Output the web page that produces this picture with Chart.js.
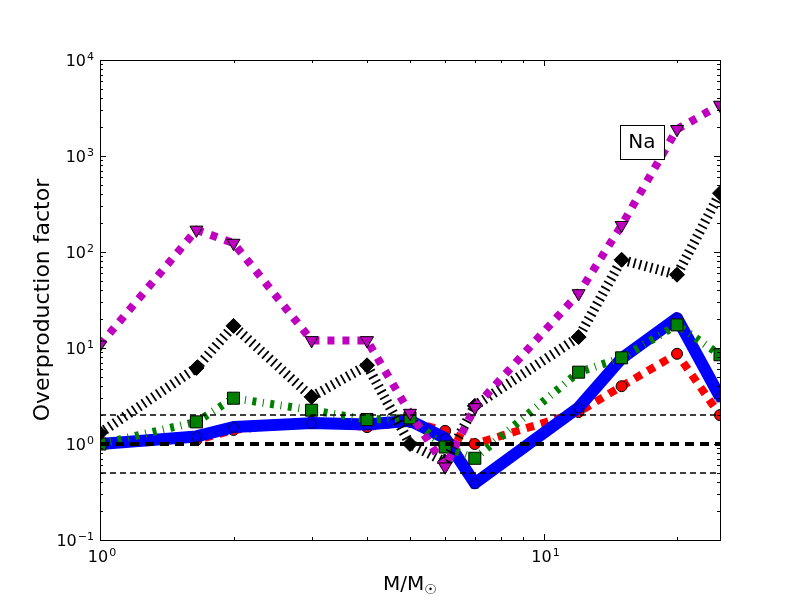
<!DOCTYPE html>
<html>
<head>
<meta charset="utf-8">
<script src="https://cdn.jsdelivr.net/npm/chart.js@4.4.0/dist/chart.umd.min.js"></script>
<style>
  html, body { margin: 0; padding: 0; background: #fff; }
  canvas { display: block; }
</style>
</head>
<body>
<canvas id="chart" width="800" height="600"></canvas>
<script>
// Stellar masses (x) and overproduction factors for each model (y)
const masses = [1, 1.65, 2, 3, 4, 5, 6, 7, 12, 15, 20, 25];
const blueValues    = [1.0, 1.2, 1.5, 1.65, 1.6, 1.75, 1.15, 0.39, 2.4, 7.8, 20.5, 3.1];
const redValues     = [1.0, 1.1, 1.4, 1.7, 1.5, 1.7, 1.37, 1.0, 2.15, 4.0, 8.7, 2.0];
const greenValues   = [1.0, 1.7, 3.0, 2.25, 1.8, 1.87, 0.93, 0.71, 5.6, 7.9, 17.4, 8.5];
const blackValues   = [1.3, 6.2, 17, 3.1, 6.6, 1.0, 0.65, 2.5, 13, 83, 58, 410];
const magentaValues = [10.8, 170, 124, 12, 12, 2.1, 0.58, 2.4, 37, 190, 1900, 3400];

// Reference levels (dashed horizontal lines)
const refLevels = [0.5, 1, 2];

// Tick labels
const yTickValues = [0.1, 1, 10, 100, 1000, 10000];
const yTickExponents = ['\u22121', '0', '1', '2', '3', '4'];
const xTickValues = [1, 10];
const xTickExponents = ['0', '1'];

const elementLabel = 'Na';

function toPoints(values) {
    return values.map((v, i) => ({ x: masses[i], y: v }));
}

// pentagon marker for the blue series
function makePentagon(r, fill) {
    const c = document.createElement('canvas');
    const s = Math.ceil(r * 2 + 4);
    c.width = s; c.height = s;
    const g = c.getContext('2d');
    g.beginPath();
    for (let k = 0; k < 5; k++) {
        const a = -Math.PI / 2 + k * 2 * Math.PI / 5;
        const px = s / 2 + r * Math.cos(a);
        const py = s / 2 + r * Math.sin(a) + 0.5;
        if (k === 0) g.moveTo(px, py); else g.lineTo(px, py);
    }
    g.closePath();
    g.fillStyle = fill;
    g.fill();
    g.lineWidth = 1;
    g.strokeStyle = '#000060';
    g.stroke();
    return c;
}

const refDatasets = refLevels.map(lvl => ({
    data: [{ x: masses[0], y: lvl }, { x: masses[masses.length - 1], y: lvl }],
    borderColor: '#000',
    borderWidth: lvl === 1 ? 4 : 1.5,
    borderDash: lvl === 1 ? [9, 6] : [6, 4],
    pointRadius: 0,
    order: 0
}));

const datasets = [
    {
        data: toPoints(redValues),
        borderColor: '#ff0000',
        borderWidth: 8,
        borderDash: [8, 7],
        pointStyle: 'circle',
        pointRadius: 5.5,
        pointBackgroundColor: '#ff0000',
        pointBorderColor: '#000',
        pointBorderWidth: 1,
        order: 5
    },
    {
        data: toPoints(blueValues),
        borderColor: '#0000ff',
        borderWidth: 12,
        pointStyle: makePentagon(5.5, '#0000ff'),
        pointRadius: 6,
        order: 4
    },
    {
        data: toPoints(greenValues),
        borderColor: '#008000',
        borderWidth: 8,
        borderDash: [4, 6.5, 1, 6.5],
        pointStyle: 'rect',
        pointRadius: 8.5,
        pointBackgroundColor: '#008000',
        pointBorderColor: '#000',
        pointBorderWidth: 1,
        order: 3
    },
    {
        data: toPoints(blackValues),
        borderColor: '#000',
        borderWidth: 10,
        borderDash: [1.8, 4],
        pointStyle: 'rectRot',
        pointRadius: 7.5,
        pointBackgroundColor: '#000',
        pointBorderColor: '#000',
        pointBorderWidth: 1,
        order: 2
    },
    {
        data: toPoints(magentaValues),
        borderColor: '#bf00bf',
        borderWidth: 8,
        borderDash: [7, 8],
        pointStyle: 'triangle',
        pointRotation: 180,
        pointRadius: 7.5,
        pointBackgroundColor: '#bf00bf',
        pointBorderColor: '#000',
        pointBorderWidth: 1,
        order: 1
    },
    ...refDatasets
];

datasets.forEach(ds => {
    ds.tension = 0;
    ds.fill = false;
    ds.clip = 0;
    ds.borderCapStyle = 'butt';
    ds.borderJoinStyle = 'round';
});

function drawPower(ctx, x, y, exp, align) {
    ctx.font = '16px "DejaVu Sans"';
    const baseW = ctx.measureText('10').width;
    ctx.font = '11px "DejaVu Sans"';
    const expW = ctx.measureText(exp).width;
    const total = baseW + 1 + expW;
    let startX = align === 'right' ? x - total : x - total / 2;
    ctx.textAlign = 'left';
    ctx.textBaseline = 'alphabetic';
    ctx.font = '16px "DejaVu Sans"';
    ctx.fillText('10', startX, y);
    ctx.font = '11px "DejaVu Sans"';
    ctx.fillText(exp, startX + baseW + 1, y - 6);
}

const axesDecor = {
    id: 'axesDecor',
    afterDraw(chart) {
        const { ctx, chartArea: a, scales: { x, y } } = chart;
        ctx.save();
        ctx.strokeStyle = '#000';
        ctx.fillStyle = '#000';
        ctx.lineWidth = 1;

        // frame
        ctx.strokeRect(Math.round(a.left) + 0.5, Math.round(a.top) + 0.5,
            Math.round(a.right - a.left), Math.round(a.bottom - a.top));

        const tick = (px, len, horizontal) => {
            ctx.beginPath();
            const p = Math.round(px) + 0.5;
            if (horizontal) {
                ctx.moveTo(p, a.bottom); ctx.lineTo(p, a.bottom - len);
                ctx.moveTo(p, a.top); ctx.lineTo(p, a.top + len);
            } else {
                ctx.moveTo(a.left, p); ctx.lineTo(a.left + len, p);
                ctx.moveTo(a.right, p); ctx.lineTo(a.right - len, p);
            }
            ctx.stroke();
        };

        // y ticks
        yTickValues.forEach((v, i) => {
            tick(y.getPixelForValue(v), 6, false);
            if (i < yTickValues.length - 1) {
                for (let m = 2; m <= 9; m++) tick(y.getPixelForValue(v * m), 3, false);
            }
        });
        // x ticks
        xTickValues.forEach(v => {
            tick(x.getPixelForValue(v), 6, true);
            for (let m = 2; m <= 9; m++) {
                if (v * m <= x.max) tick(x.getPixelForValue(v * m), 3, true);
            }
        });

        // tick labels
        yTickValues.forEach((v, i) => {
            drawPower(ctx, a.left - 6, y.getPixelForValue(v) + 6, yTickExponents[i], 'right');
        });
        xTickValues.forEach((v, i) => {
            drawPower(ctx, x.getPixelForValue(v) + 2, a.bottom + 22, xTickExponents[i], 'center');
        });

        // axis titles
        ctx.font = '20px "DejaVu Sans"';
        ctx.textBaseline = 'alphabetic';
        const mW = ctx.measureText('M/M').width;
        ctx.font = '14px "DejaVu Sans"';
        const sunW = ctx.measureText('\u2609').width;
        const cx = (a.left + a.right) / 2;
        const sx = cx - (mW + sunW) / 2;
        ctx.textAlign = 'left';
        ctx.font = '20px "DejaVu Sans"';
        ctx.fillText('M/M', sx, 590);
        ctx.font = '14px "DejaVu Sans"';
        ctx.fillText('\u2609', sx + mW, 594);

        ctx.save();
        ctx.translate(49, (a.top + a.bottom) / 2);
        ctx.rotate(-Math.PI / 2);
        ctx.font = '22px "DejaVu Sans"';
        ctx.textAlign = 'center';
        ctx.fillText('Overproduction factor', 0, 0);
        ctx.restore();

        // element label box
        const bx = a.left + 0.874 * (a.right - a.left);
        const by = a.top + 0.171 * (a.bottom - a.top);
        ctx.fillStyle = '#fff';
        ctx.fillRect(bx - 22, by - 17, 44, 34);
        ctx.strokeRect(Math.round(bx - 22) + 0.5, Math.round(by - 17) + 0.5, 44, 34);
        ctx.fillStyle = '#000';
        ctx.font = '20px "DejaVu Sans"';
        ctx.textAlign = 'center';
        ctx.textBaseline = 'middle';
        ctx.fillText(elementLabel, bx, by + 1);
        ctx.restore();
    }
};

new Chart(document.getElementById('chart'), {
    type: 'line',
    data: { datasets: datasets },
    options: {
        responsive: false,
        animation: false,
        devicePixelRatio: 1,
        layout: { padding: { left: 100, right: 80, top: 60, bottom: 60 } },
        plugins: { legend: { display: false }, tooltip: { enabled: false } },
        scales: {
            x: { type: 'logarithmic', min: 1, max: 25, display: false },
            y: { type: 'logarithmic', min: 0.1, max: 10000, display: false }
        }
    },
    plugins: [axesDecor]
});
</script>
</body>
</html>
